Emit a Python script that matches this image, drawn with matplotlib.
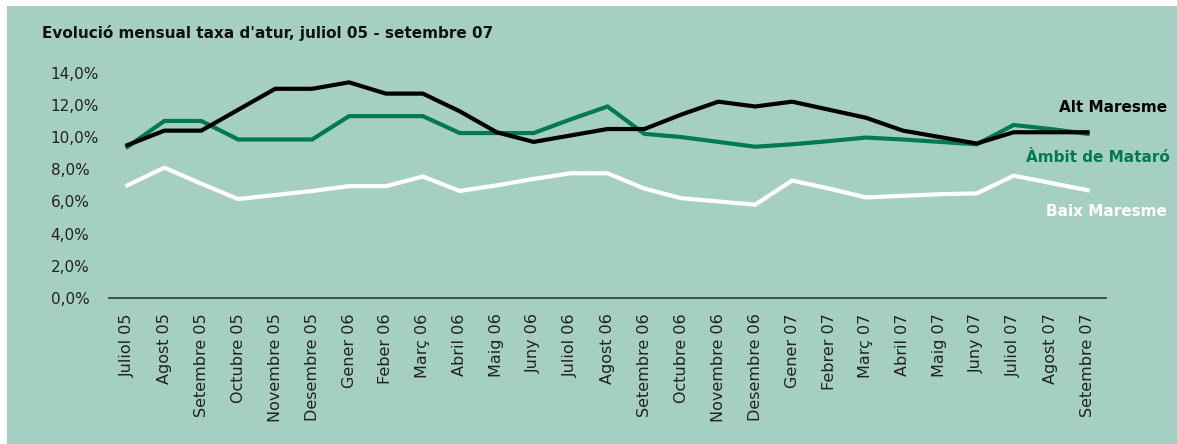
import numpy as np
import matplotlib.pyplot as plt
from matplotlib.patches import Rectangle
from matplotlib.ticker import FuncFormatter

plt.rcParams['font.family'] = ['DejaVu Sans']

# Dades
mesos = ['Juliol 05', 'Agost 05', 'Setembre 05', 'Octubre 05', 'Novembre 05',
         'Desembre 05', 'Gener 06', 'Feber 06', 'Març 06', 'Abril 06', 'Maig 06',
         'Juny 06', 'Juliol 06', 'Agost 06', 'Setembre 06', 'Octubre 06',
         'Novembre 06', 'Desembre 06', 'Gener 07', 'Febrer 07', 'Març 07',
         'Abril 07', 'Maig 07', 'Juny 07', 'Juliol 07', 'Agost 07', 'Setembre 07']

alt_maresme = [9.5, 10.4, 10.4, 11.7, 13.0, 13.0, 13.4, 12.7, 12.7, 11.6, 10.3,
               9.7, 10.1, 10.5, 10.5, 11.4, 12.2, 11.9, 12.2, 11.7, 11.2, 10.4,
               10.0, 9.6, 10.3, 10.3, 10.3]
ambit_mataro = [9.4, 11.0, 11.0, 9.85, 9.85, 9.85, 11.3, 11.3, 11.3, 10.25, 10.25,
                10.25, 11.1, 11.9, 10.2, 10.0, 9.7, 9.4, 9.55, 9.75, 9.97, 9.85,
                9.7, 9.55, 10.75, 10.5, 10.2]
baix_maresme = [7.0, 8.1, 7.1, 6.15, 6.4, 6.65, 6.95, 6.95, 7.55, 6.65, 7.0,
                7.4, 7.75, 7.75, 6.8, 6.2, 6.0, 5.8, 7.3, 6.8, 6.25, 6.35,
                6.45, 6.5, 7.6, 7.15, 6.7]

fons = '#A6CFC3'
verd = '#007A50'

fig = plt.figure(figsize=(11.77, 4.44), dpi=100, facecolor='white')
# fons verd de tot el gràfic
fig.patches.append(Rectangle((7 / 1177, 0), 1 - 7 / 1177, 1 - 6 / 444,
                             transform=fig.transFigure, facecolor=fons,
                             edgecolor='none', zorder=-10))

ax = fig.add_axes([109 / 1177, 1 - 298 / 444, (1106 - 109) / 1177, (298 - 72.7) / 444])
ax.set_facecolor('none')
ax.set_zorder(5)

x = np.arange(len(mesos))
ax.plot(x, ambit_mataro, color=verd, lw=3.0, solid_joinstyle='miter', clip_on=False, zorder=3)
ax.plot(x, baix_maresme, color='white', lw=3.0, solid_joinstyle='miter', clip_on=False, zorder=3)
ax.plot(x, alt_maresme, color='black', lw=3.0, solid_joinstyle='miter', clip_on=False, zorder=4)

ax.set_xlim(-0.5, len(mesos) - 0.5)
ax.set_ylim(0, 14)
ax.set_yticks(np.arange(0, 15, 2))
ax.yaxis.set_major_formatter(FuncFormatter(lambda v, p: f'{v:.1f}%'.replace('.', ',')))
ax.set_xticks(x)
ax.set_xticklabels(mesos, rotation=90, fontsize=11.5, color='#222222')
for lab in ax.get_yticklabels():
    lab.set_horizontalalignment('left')
ax.tick_params(axis='y', length=0, pad=42, labelsize=11, labelcolor='#222222')
ax.tick_params(axis='x', length=0, pad=11)

for s in ['top', 'right', 'left']:
    ax.spines[s].set_visible(False)
ax.spines['bottom'].set_color('#333333')
ax.spines['bottom'].set_linewidth(1.2)

fig.text(42 / 1177, 1 - 33 / 444, "Evolució mensual taxa d'atur, juliol 05 - setembre 07",
         fontsize=11, fontweight='bold', color='#111111', va='center')
fig.text(1167 / 1177, 1 - 107 / 444, 'Alt Maresme', fontsize=11, fontweight='bold',
         color='black', ha='right', va='center')
fig.text(1170 / 1177, 1 - 157 / 444, 'Àmbit de Mataró', fontsize=11, fontweight='bold',
         color=verd, ha='right', va='center')
fig.text(1167 / 1177, 1 - 211 / 444, 'Baix Maresme', fontsize=11, fontweight='bold',
         color='white', ha='right', va='center')

fig.savefig('out.png', dpi=100, facecolor='white')
